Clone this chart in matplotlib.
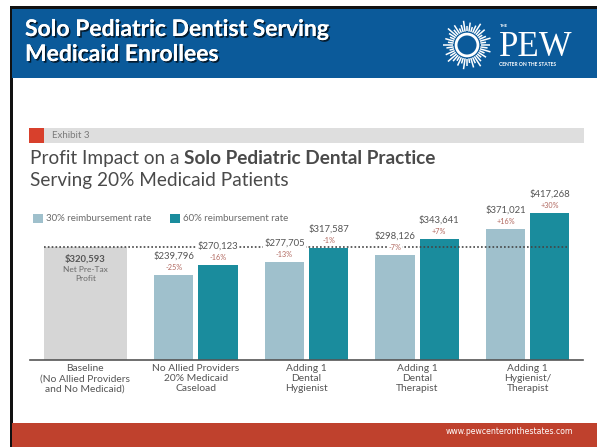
import matplotlib
matplotlib.use("Agg")
import matplotlib.pyplot as plt
import matplotlib.patheffects as pe
from matplotlib.patches import Rectangle, Circle
import numpy as np

W, H = 597, 447

categories = ["Baseline\n(No Allied Providers\nand No Medicaid)",
              "No Allied Providers\n20% Medicaid\nCaseload",
              "Adding 1\nDental\nHygienist",
              "Adding 1\nDental\nTherapist",
              "Adding 1\nHygienist/\nTherapist"]
baseline = 320593
rate30 = [239796, 277705, 298126, 371021]
rate60 = [270123, 317587, 343641, 417268]
pct30 = ["-25%", "-13%", "-7%", "+16%"]
pct60 = ["-16%", "-1%", "+7%", "+30%"]
legend_labels = ["30% reimbursement rate", "60% reimbursement rate"]

c_light = "#9fc0cc"
c_teal = "#1a8c9d"
c_base = "#d6d6d6"
c_blue = "#0b5a9a"
c_red = "#bf412d"
c_text = "#4a4a4a"
c_pct = "#b0675e"

plt.rcParams['font.family'] = ['Lato', 'DejaVu Sans']

fig = plt.figure(figsize=(W / 100, H / 100), dpi=100)
fig.patch.set_facecolor("white")


def fx(x):
    return x / W


def fy(y):
    return 1 - y / H


def frect(x, y, w, h, color, z=0):
    fig.add_artist(Rectangle((fx(x), fy(y + h)), w / W, h / H, transform=fig.transFigure,
                             facecolor=color, edgecolor="none", zorder=z))


# slide frame
frect(10, 6, W - 10, 3, "#111111")
frect(10, 6, 2.5, H - 6, "#111111")
frect(12, 9, W - 12, 69, c_blue)
frect(12, 423, W - 12, 24, c_red)

shadow = [pe.withSimplePatchShadow(offset=(1.2, -1.2), shadow_rgbFace="black", alpha=0.7), pe.Normal()]
fig.text(fx(25), fy(36), "Solo Pediatric Dentist Serving", color="white", fontsize=16.5,
         fontweight="bold", va="baseline", path_effects=shadow)
fig.text(fx(25), fy(61), "Medicaid Enrollees", color="white", fontsize=16.5,
         fontweight="bold", va="baseline", path_effects=shadow)

# logo
lax = fig.add_axes([fx(441), fy(71), 52 / W, 52 / H])
lax.set_xlim(-1, 1)
lax.set_ylim(-1, 1)
lax.set_aspect("equal")
lax.axis("off")
lax.add_patch(Circle((0, 0), 0.42, fill=False, edgecolor="white", lw=2))
ray_len = [0.35, 0.22, 0.42, 0.28, 0.18, 0.38, 0.25, 0.45, 0.3, 0.2]
angles = np.linspace(0, 2 * np.pi, 44, endpoint=False)
for i, a in enumerate(angles):
    r0, r1 = 0.52, 0.52 + ray_len[i % len(ray_len)]
    lax.plot([r0 * np.cos(a), r1 * np.cos(a)], [r0 * np.sin(a), r1 * np.sin(a)],
             color="white", lw=1.1, solid_capstyle="butt")
fig.text(fx(499), fy(56), "PEW", color="white", fontsize=25, family="Liberation Serif",
         va="baseline")
fig.text(fx(500), fy(26), "THE", color="white", fontsize=3, fontweight="bold", va="center")
fig.text(fx(499), fy(65), "CENTER ON THE STATES", color="white", fontsize=3.6,
         fontweight="bold", va="center")

fig.text(fx(573), fy(431), "www.pewcenteronthestates.com", color="white", fontsize=5.6,
         ha="right", va="center", family="DejaVu Sans")

# exhibit bar
frect(29, 128, 15, 15, "#d8402c")
frect(44, 128, 540, 15, "#dedede")
fig.text(fx(52), fy(135.5), "Exhibit 3", color="#7a7a7a", fontsize=7, va="center")

# chart title
t1 = fig.text(fx(30), fy(164), "Profit Impact on a", color=c_text, fontsize=13.7, va="baseline")
renderer = fig.canvas.get_renderer()
bb = t1.get_window_extent(renderer)
fig.text(bb.x1 / W + 4.5 / W, fy(164), "Solo Pediatric Dental Practice", color=c_text,
         fontsize=13.7, fontweight="bold", va="baseline")
fig.text(fx(30), fy(186), "Serving 20% Medicaid Patients", color=c_text, fontsize=13.7,
         va="baseline")

# legend
frect(33, 214, 10, 9, c_light)
fig.text(fx(46), fy(218.5), legend_labels[0], color="#6a6a6a", fontsize=7, va="center")
frect(170, 214, 10, 9, c_teal)
fig.text(fx(183), fy(218.5), legend_labels[1], color="#6a6a6a", fontsize=7, va="center")

# chart
ymax = 450000
ax_h = ymax / baseline * 113
ax = fig.add_axes([fx(30), fy(360), 553 / W, ax_h / H])
ax.set_xlim(-0.5, 4.5)
ax.set_ylim(0, ymax)
for s in ["top", "right", "left"]:
    ax.spines[s].set_visible(False)
ax.spines["bottom"].set_color("#555555")
ax.spines["bottom"].set_linewidth(1.2)
ax.set_yticks([])
ax.patch.set_alpha(0)

x = np.arange(1, 5)
ax.bar(0, baseline, width=0.75, color=c_base, zorder=2)
ax.bar(x - 0.2, rate30, width=0.355, color=c_light, zorder=2)
ax.bar(x + 0.2, rate60, width=0.355, color=c_teal, zorder=2)
ax.plot([-0.375, 4.37], [baseline, baseline], color="#444444", lw=1.2,
        linestyle=(0, (1, 1.3)), zorder=3)

ax.text(0, baseline, f"${baseline:,}", ha="center", va="top", fontsize=6.8,
        fontweight="bold", color="#555555", zorder=4,
        transform=ax.transData + matplotlib.transforms.ScaledTranslation(0, -7 / 100, fig.dpi_scale_trans))
ax.text(0, baseline, "Net Pre-Tax\nProfit", ha="center", va="top", fontsize=6,
        color="#6a6a6a", zorder=4, linespacing=1.3,
        transform=ax.transData + matplotlib.transforms.ScaledTranslation(0, -19 / 100, fig.dpi_scale_trans))

lbl_box = dict(facecolor="white", edgecolor="none", pad=0.6)
for xs, vals, pcts in [(x - 0.2, rate30, pct30), (x + 0.2, rate60, pct60)]:
    for xi, v, p in zip(xs, vals, pcts):
        ax.annotate(p, (xi, v), xytext=(0, 3), textcoords="offset points", ha="center",
                    va="bottom", fontsize=5.2, color=c_pct, zorder=4, bbox=lbl_box)
        ax.annotate(f"${v:,}", (xi, v), xytext=(0, 10.5), textcoords="offset points",
                    ha="center", va="bottom", fontsize=6.8, color="#555555", zorder=4,
                    bbox=lbl_box)

ax.set_xticks(range(5))
ax.set_xticklabels(categories, fontsize=7.4, color="#555555", linespacing=1.15)
ax.tick_params(axis="x", length=0, pad=3)

fig.savefig("out.png", dpi=100)
